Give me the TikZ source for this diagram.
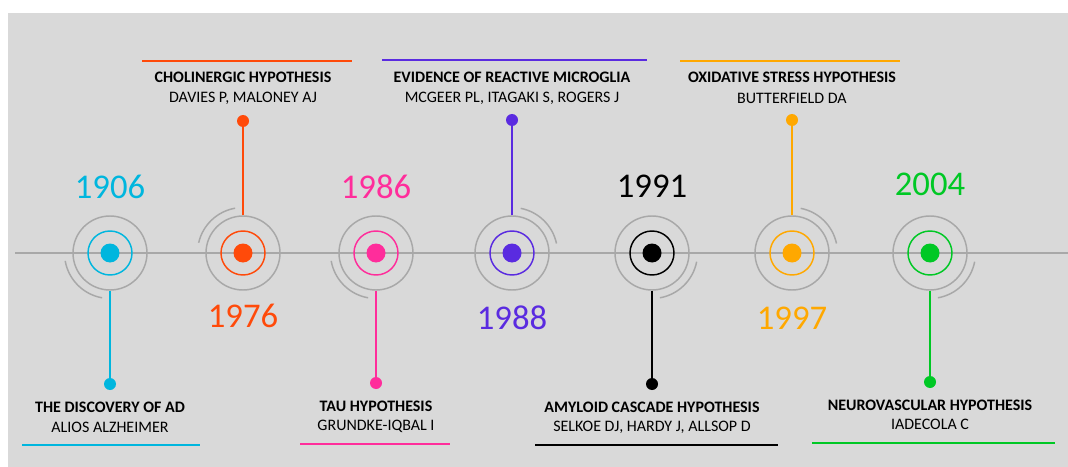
\documentclass[tikz,border=0pt]{standalone}
\usepackage{fontspec}
\setmainfont{Carlito}
\definecolor{bg}{HTML}{D9D9D9}
\definecolor{halogray}{HTML}{A8A8A8}
\definecolor{cA}{HTML}{00B6DE}
\definecolor{cB}{HTML}{FF4A0A}
\definecolor{cC}{HTML}{FF2D9B}
\definecolor{cD}{HTML}{5A2BE0}
\definecolor{cE}{HTML}{000000}
\definecolor{cF}{HTML}{FFA800}
\definecolor{cG}{HTML}{00C825}
\begin{document}
\begin{tikzpicture}[x=0.75pt,y=0.75pt,
  halo/.style={circle, draw=halogray, line width=1.1pt, minimum size=55.5pt, inner sep=0pt},
  ring/.style={circle, draw=#1, line width=1.1pt, minimum size=33pt, inner sep=0pt},
  core/.style={circle, fill=#1, minimum size=14.25pt, inner sep=0pt},
  tipdot/.style={circle, fill=#1, minimum size=9pt, inner sep=0pt},
  stem/.style={draw=#1, line width=1.2pt},
  rule/.style={draw=#1, line width=1.2pt},
  arcline/.style={draw=halogray, line width=1.1pt},
  year/.style={text=#1, font=\fontsize{26}{30}\selectfont, inner sep=0pt},
  ttl/.style={font=\bfseries\fontsize{12}{14}\selectfont, inner sep=0pt},
  auth/.style={font=\fontsize{12}{14}\selectfont, inner sep=0pt},
]
\useasboundingbox (0,0) rectangle (1068,-467);
\fill[white] (0,0) rectangle (1068,-467);
\fill[bg] (8,-13) rectangle (1068,-467);

\coordinate (L0) at (15,-253);
\coordinate (L1) at (1068,-253);
\draw[halogray, line width=1.1pt] (L0) -- (L1);

% ---- 1906
\node[halo] (h1) at (110,-253) {};
\node[ring=cA] (r1) at (h1) {};
\node[core=cA] (d1) at (h1) {};
\draw[arcline] ([shift={(190:45.5)}]h1.center) arc[start angle=190, end angle=260, radius=45.5];
\node[tipdot=cA] (t1) at (110,-384) {};
\draw[stem=cA] (h1) -- (t1);
\node[year=cA] (y1) at (110,-187) {1906};
\node[ttl] (n1) at (110,-407) {THE DISCOVERY OF AD};
\node[auth] (a1) at (110,-427) {ALIOS ALZHEIMER};
\coordinate (u1a) at (22,-445); \coordinate (u1b) at (200,-445);
\draw[rule=cA] (u1a) -- (u1b);

% ---- 1976
\node[halo] (h2) at (243,-253) {};
\node[ring=cB] (r2) at (h2) {};
\node[core=cB] (d2) at (h2) {};
\draw[arcline] ([shift={(100:45.5)}]h2.center) arc[start angle=100, end angle=167, radius=45.5];
\node[tipdot=cB] (t2) at (243,-121) {};
\draw[stem=cB] (h2) -- (t2);
\node[year=cB] (y2) at (243,-316) {1976};
\node[ttl] (n2) at (243,-77) {CHOLINERGIC HYPOTHESIS};
\node[auth] (a2) at (243,-98) {DAVIES P, MALONEY AJ};
\coordinate (u2a) at (142,-61); \coordinate (u2b) at (352,-61);
\draw[rule=cB] (u2a) -- (u2b);

% ---- 1986
\node[halo] (h3) at (376,-253) {};
\node[ring=cC] (r3) at (h3) {};
\node[core=cC] (d3) at (h3) {};
\draw[arcline] ([shift={(190:45.5)}]h3.center) arc[start angle=190, end angle=260, radius=45.5];
\node[tipdot=cC] (t3) at (376,-383) {};
\draw[stem=cC] (h3) -- (t3);
\node[year=cC] (y3) at (376,-187) {1986};
\node[ttl] (n3) at (376,-406) {TAU HYPOTHESIS};
\node[auth] (a3) at (376,-426) {GRUNDKE-IQBAL I};
\coordinate (u3a) at (300,-444); \coordinate (u3b) at (450,-444);
\draw[rule=cC] (u3a) -- (u3b);

% ---- 1988
\node[halo] (h4) at (512,-253) {};
\node[ring=cD] (r4) at (h4) {};
\node[core=cD] (d4) at (h4) {};
\draw[arcline] ([shift={(12:45.5)}]h4.center) arc[start angle=12, end angle=79, radius=45.5];
\node[tipdot=cD] (t4) at (512,-120) {};
\draw[stem=cD] (h4) -- (t4);
\node[year=cD] (y4) at (512,-318) {1988};
\node[ttl] (n4) at (512,-77) {EVIDENCE OF REACTIVE MICROGLIA};
\node[auth] (a4) at (512,-98) {MCGEER PL, ITAGAKI S, ROGERS J};
\coordinate (u4a) at (382,-60); \coordinate (u4b) at (647,-60);
\draw[rule=cD] (u4a) -- (u4b);

% ---- 1991
\node[halo] (h5) at (652,-253) {};
\node[ring=cE] (r5) at (h5) {};
\node[core=cE] (d5) at (h5) {};
\draw[arcline] ([shift={(-80:45.5)}]h5.center) arc[start angle=-80, end angle=-11, radius=45.5];
\node[tipdot=cE] (t5) at (652,-384) {};
\draw[stem=cE] (h5) -- (t5);
\node[year=cE] (y5) at (652,-186) {1991};
\node[ttl] (n5) at (652,-407) {AMYLOID CASCADE HYPOTHESIS};
\node[auth] (a5) at (652,-427) {SELKOE DJ, HARDY J, ALLSOP D};
\coordinate (u5a) at (535,-445); \coordinate (u5b) at (778,-445);
\draw[rule=cE] (u5a) -- (u5b);

% ---- 1997
\node[halo] (h6) at (792,-253) {};
\node[ring=cF] (r6) at (h6) {};
\node[core=cF] (d6) at (h6) {};
\draw[arcline] ([shift={(12:45.5)}]h6.center) arc[start angle=12, end angle=79, radius=45.5];
\node[tipdot=cF] (t6) at (792,-120) {};
\draw[stem=cF] (h6) -- (t6);
\node[year=cF] (y6) at (792,-318) {1997};
\node[ttl] (n6) at (792,-77) {OXIDATIVE STRESS HYPOTHESIS};
\node[auth] (a6) at (792,-98) {BUTTERFIELD DA};
\coordinate (u6a) at (680,-61); \coordinate (u6b) at (900,-61);
\draw[rule=cF] (u6a) -- (u6b);

% ---- 2004
\node[halo] (h7) at (930,-253) {};
\node[ring=cG] (r7) at (h7) {};
\node[core=cG] (d7) at (h7) {};
\draw[arcline] ([shift={(-80:45.5)}]h7.center) arc[start angle=-80, end angle=-11, radius=45.5];
\node[tipdot=cG] (t7) at (930,-382) {};
\draw[stem=cG] (h7) -- (t7);
\node[year=cG] (y7) at (930,-184) {2004};
\node[ttl] (n7) at (930,-405) {NEUROVASCULAR HYPOTHESIS};
\node[auth] (a7) at (930,-424) {IADECOLA C};
\coordinate (u7a) at (812,-443); \coordinate (u7b) at (1055,-443);
\draw[rule=cG] (u7a) -- (u7b);
\end{tikzpicture}
\end{document}
